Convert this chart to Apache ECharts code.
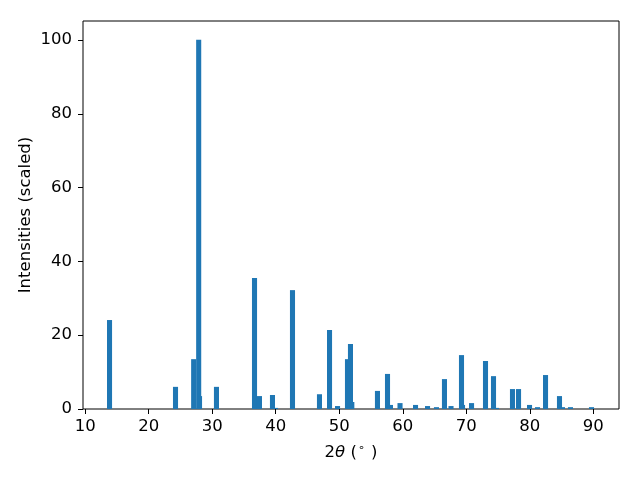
<!DOCTYPE html>
<html>
<head>
<meta charset="utf-8">
<script src="https://cdn.jsdelivr.net/npm/echarts@6/dist/echarts.min.js"></script>
<style>html,body{margin:0;padding:0;background:#fff}#c{width:640px;height:480px}</style>
</head>
<body>
<div id="c"></div>
<script>
// 2θ positions (degrees) of each reflection
const twoTheta = [13.83, 24.22, 27.08, 27.87, 28.00, 30.67, 36.66, 37.44, 39.49, 39.96,
  42.64, 46.89, 48.47, 49.73, 51.30, 51.77, 51.98, 56.02, 57.60, 58.07,
  59.57, 62.01, 63.90, 65.31, 66.57, 67.60, 69.25, 69.41, 70.83, 73.03,
  74.29, 74.76, 77.28, 78.23, 79.96, 81.22, 82.48, 84.68, 85.15, 86.41, 89.72];
// scaled intensities
const intensity = [24.1, 6.0, 13.5, 100, 3.5, 6.0, 35.5, 3.5, 3.8, 0.3,
  32.2, 4.0, 21.4, 0.8, 13.5, 17.6, 1.9, 4.9, 9.5, 1.1,
  1.6, 1.1, 0.8, 0.5, 8.1, 0.8, 14.6, 1.1, 1.6, 13.0,
  8.9, 0.3, 5.4, 5.4, 1.1, 0.5, 9.2, 3.5, 0.5, 0.5, 0.5];
const xTicks = [10, 20, 30, 40, 50, 60, 70, 80, 90];
const yTicks = [0, 20, 40, 60, 80, 100];

const BAR_W = 0.8;
const XMIN = 9.654, XMAX = 94.05, YMAX = 105.1;
const FONT = 'DejaVu Sans';
const FS = 16.5;
const data = twoTheta.map((x, i) => [x, intensity[i]]);

const chart = echarts.init(document.getElementById('c'), null, {renderer: 'canvas'});
const hidden = {show: false};
chart.setOption({
  animation: false,
  backgroundColor: '#fff',
  grid: [
    {left: 83, top: 21, width: 536, height: 388, show: true, borderColor: '#000', borderWidth: 1, backgroundColor: 'transparent'},
    {left: 85.2, top: 21, width: 508.1, height: 388},
    {left: 83, top: 40, width: 536, height: 369}
  ],
  xAxis: [
    {type: 'value', gridIndex: 0, min: XMIN, max: XMAX, axisLine: hidden, axisTick: hidden, axisLabel: hidden, splitLine: hidden,
      name: '{n|2}{i|θ}{n| (}{s|∘}{n| )}', nameLocation: 'middle', nameGap: 34,
      nameTextStyle: {rich: {
        n: {fontFamily: FONT, fontSize: FS, color: '#000', verticalAlign: 'bottom'},
        i: {fontFamily: FONT, fontSize: FS, fontStyle: 'italic', color: '#000', verticalAlign: 'bottom'},
        s: {fontFamily: FONT, fontSize: 11, color: '#000', verticalAlign: 'bottom', padding: [0, 1, 7, 1]}
      }}},
    {type: 'value', gridIndex: 1, min: xTicks[0], max: xTicks[xTicks.length - 1], interval: 10, axisLine: hidden,
      axisTick: {show: true, length: 5, lineStyle: {color: '#000', width: 1}},
      axisLabel: {show: true, margin: 9, fontFamily: FONT, fontSize: FS, color: '#000'}, splitLine: hidden},
    {type: 'value', gridIndex: 2, min: 0, max: 1, axisLine: hidden, axisTick: hidden, axisLabel: hidden, splitLine: hidden}
  ],
  yAxis: [
    {type: 'value', gridIndex: 0, min: 0, max: YMAX, axisLine: hidden, axisTick: hidden, axisLabel: hidden, splitLine: hidden,
      name: 'Intensities (scaled)', nameLocation: 'middle', nameGap: 49,
      nameTextStyle: {fontFamily: FONT, fontSize: FS, color: '#000'}},
    {type: 'value', gridIndex: 1, min: 0, max: 1, axisLine: hidden, axisTick: hidden, axisLabel: hidden, splitLine: hidden},
    {type: 'value', gridIndex: 2, min: yTicks[0], max: yTicks[yTicks.length - 1], interval: 20, axisLine: hidden,
      axisTick: {show: true, length: 5, lineStyle: {color: '#000', width: 1}},
      axisLabel: {show: true, margin: 11, fontFamily: FONT, fontSize: FS, color: '#000'}, splitLine: hidden}
  ],
  series: [{
    type: 'custom',
    xAxisIndex: 0, yAxisIndex: 0,
    data: data,
    renderItem: function (params, api) {
      const x = api.value(0), y = api.value(1);
      const p0 = api.coord([x - BAR_W / 2, 0]);
      const p1 = api.coord([x + BAR_W / 2, y]);
      return {type: 'rect', shape: {x: p0[0], y: p1[1], width: p1[0] - p0[0], height: p0[1] - p1[1]},
        style: {fill: '#1f77b4'}};
    }
  }]
});
</script>
</body>
</html>
